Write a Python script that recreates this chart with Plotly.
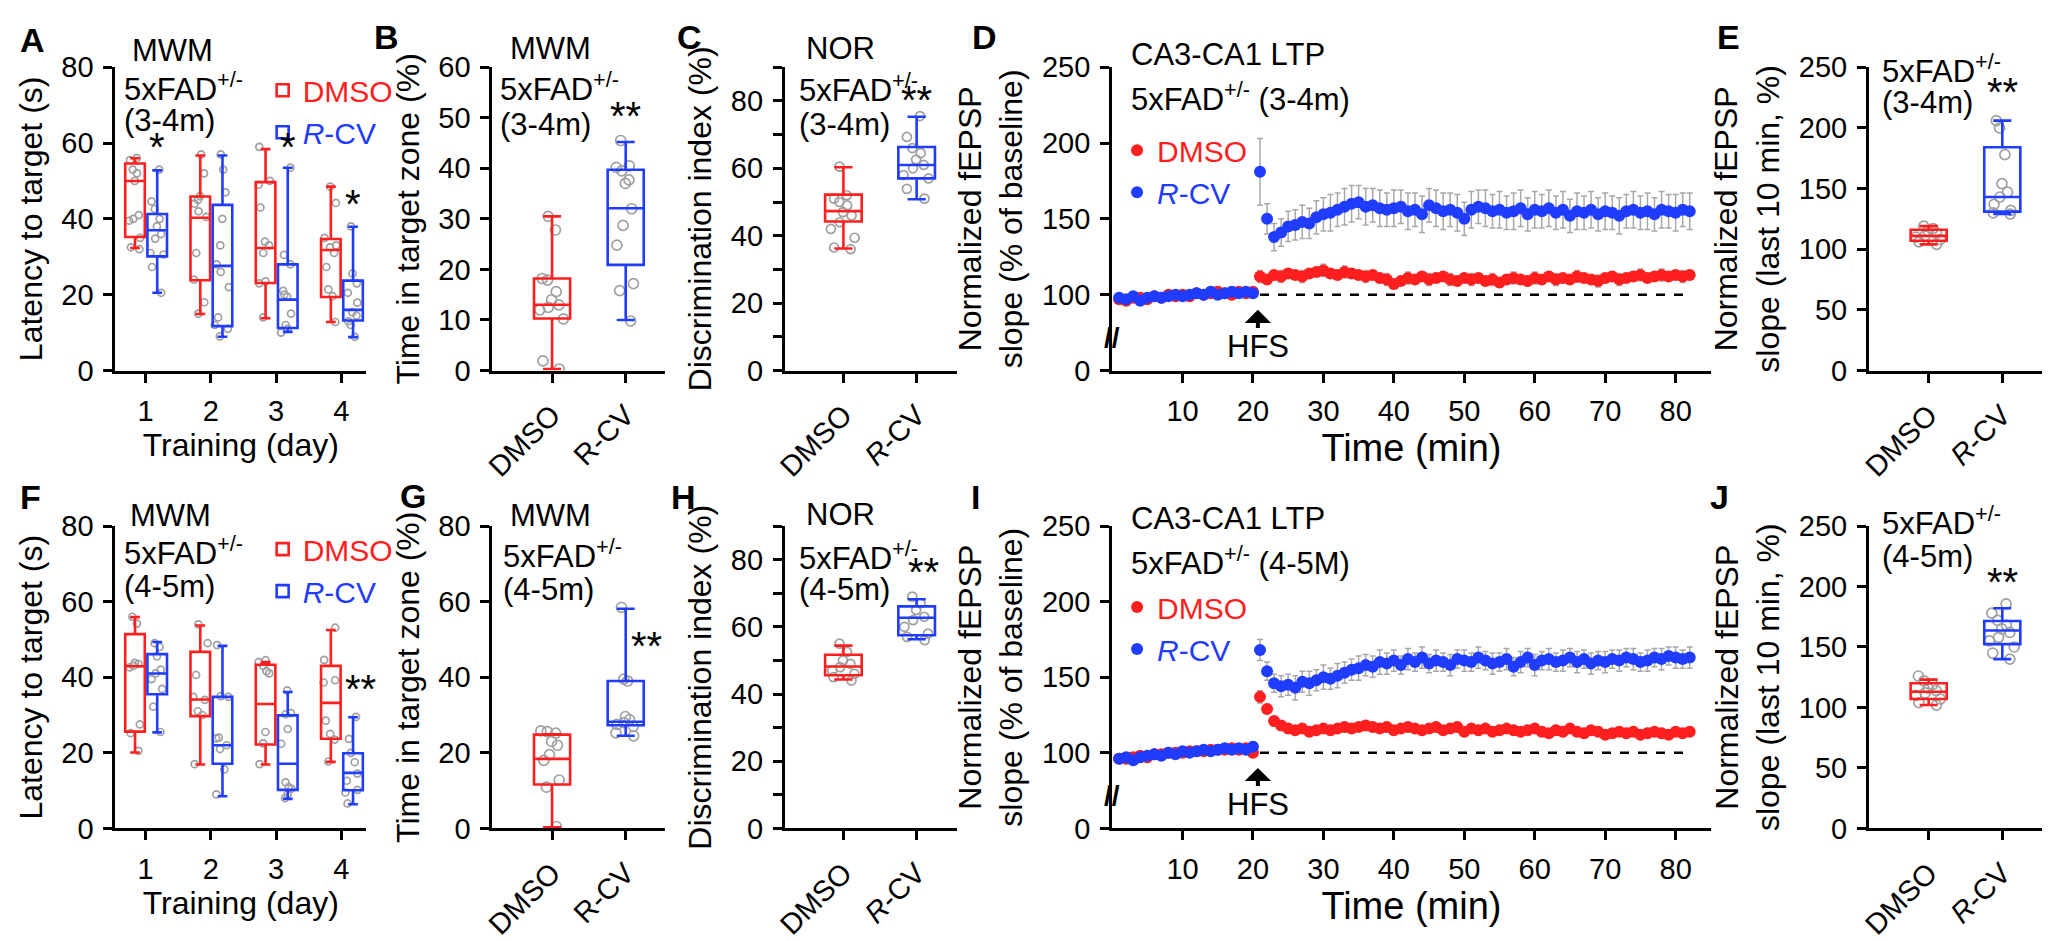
import plotly.graph_objects as go

W, H = 2054, 941
RED = "#ff1f1f"
BLUE = "#1f3cff"
GRAY = "#a0a0a0"
EGRAY = "#a8a8a8"
FONT = "Liberation Sans, Arial, sans-serif"

# ---------------- data ----------------
DAYS = [1, 2, 3, 4]
TREAT_POS = [1, 2]
TREAT_TXT = ["DMSO", "R-CV"]
TREAT_TXT_IT = ["DMSO", "<i>R</i>-CV"]

# box stats: [lowerfence, q1, median, q3, upperfence]
A_DMSO_BOX = [[32.3, 35.2, 50.0, 54.6, 56.0], [14.9, 23.8, 40.3, 45.9, 56.7],
              [13.8, 23.1, 32.3, 49.7, 58.4], [12.8, 19.4, 31.8, 34.7, 48.5]]
A_RCV_BOX = [[20.5, 30.1, 37.0, 41.3, 52.8], [8.9, 11.7, 27.6, 43.7, 56.7],
             [10.2, 11.2, 18.7, 28.0, 53.5], [8.8, 13.2, 16.0, 23.7, 37.9]]
A_DMSO_PTS = [[56, 55.5, 53, 52, 50, 41, 40, 39.5, 35, 32.5, 32],
              [57, 52, 46, 45, 44, 42, 40.5, 31, 24, 18, 15],
              [59, 50, 49, 43, 34, 33, 31, 23.5, 23, 14],
              [48.5, 44.2, 35, 33, 32.5, 31, 27.3, 21.4, 19.6, 12.8]]
A_RCV_PTS = [[53, 44.6, 42.6, 40, 38, 36, 34.8, 31, 30.6, 27.3, 20.5],
             [57, 53, 47, 40, 33, 28, 26, 22, 14, 12, 11, 9],
             [53.5, 30.5, 28, 21, 20, 19.5, 15, 12, 11, 10],
             [38, 25.6, 23, 20.5, 17.9, 15.4, 14.5, 13, 12, 8.9]]

B_DMSO_BOX = [[0.3, 10.3, 13.0, 18.2, 30.5]]
B_RCV_BOX = [[10.0, 20.9, 32.1, 39.7, 45.2]]
B_DMSO_PTS = [[30.5, 27.8, 18.2, 17.9, 15.6, 14, 13, 12.5, 12, 10.2, 1.9, 0.3]]
B_RCV_PTS = [[45.5, 40.5, 40.2, 39.5, 37.7, 37, 32, 28.7, 24.8, 17.2, 15.8, 9.8]]

C_DMSO_BOX = [[36.2, 44.2, 47.3, 52.2, 60.3]]
C_RCV_BOX = [[50.8, 57.0, 61.0, 66.3, 75.3]]
C_DMSO_PTS = [[60.5, 52, 51, 50, 49, 47, 46, 44, 42, 39.4, 36.5, 36]]
C_RCV_PTS = [[75.5, 69.3, 66, 64.5, 62.6, 61, 60, 58, 57, 53.9, 51]]

E_DMSO_BOX = [[104, 107, 111, 116, 119]]
E_RCV_BOX = [[129, 131, 143, 184, 206]]
E_DMSO_PTS = [[119, 117, 115, 113, 111, 110, 108, 106, 104]]
E_RCV_PTS = [[206, 200, 178, 154, 147, 143, 137, 132, 130, 129]]

F_DMSO_BOX = [[20.1, 25.6, 42.9, 51.4, 55.9], [16.9, 29.7, 34.1, 46.7, 53.7],
              [16.9, 22.2, 32.9, 43.3, 44.0], [17.6, 23.7, 33.2, 43.0, 52.5]]
F_RCV_BOX = [[25.4, 35.5, 41.0, 46.1, 49.3], [8.5, 17.1, 22.0, 34.8, 48.3],
             [7.8, 10.2, 17.1, 29.9, 36.1], [6.4, 10.1, 14.7, 19.9, 29.4]]
F_DMSO_PTS = [[56, 54.2, 43.8, 43.5, 43, 42.6, 27.5, 25.2, 20.5],
              [54, 49, 40.6, 34.8, 34, 31, 30, 17],
              [44.5, 44, 43, 41.6, 41, 25.5, 22.5, 17],
              [53.1, 44.6, 39.2, 38.6, 28.5, 25, 23.5, 17.7]]
F_RCV_PTS = [[49, 48, 45.5, 42, 41, 39.5, 36.9, 32.2, 25.5],
             [48.5, 35, 34.8, 24, 23.8, 22, 21, 15.6, 9],
             [36.5, 30.5, 30.2, 26.3, 22.4, 12.2, 10.9, 10.5, 9, 8],
             [29.5, 23.7, 20, 17.5, 14.5, 12.6, 10.2, 9.5, 6.6]]

G_DMSO_BOX = [[0.3, 11.6, 18.4, 24.8, 24.9]]
G_RCV_BOX = [[24.5, 27.3, 28.2, 39.0, 58.1]]
G_DMSO_PTS = [[25.8, 25.6, 25.2, 23, 22, 19.5, 18, 12.8, 10.9, 0.5]]
G_RCV_PTS = [[58.5, 39.5, 39, 29.6, 28.8, 28, 27.5, 27, 25.3, 24.5]]

H_DMSO_BOX = [[44.3, 45.6, 48.2, 51.7, 54.4]]
H_RCV_BOX = [[56.3, 57.5, 62.7, 66.1, 68.2]]
H_DMSO_PTS = [[55, 52.5, 50, 49, 48, 47, 46, 45, 44]]
H_RCV_PTS = [[69, 67, 65, 63, 62, 60, 58, 57, 56]]

J_DMSO_BOX = [[102, 107, 113, 120, 123]]
J_RCV_BOX = [[140, 152.4, 163.6, 171.5, 182]]
J_DMSO_PTS = [[126, 122, 119, 116, 114, 112, 110, 107, 104, 102]]
J_RCV_PTS = [[185.6, 178, 172, 168, 165, 162, 158, 155, 150, 145, 140]]

# LTP time courses (1-min bins)
TIME_MIN = list(range(1, 83))
D_DMSO = [97, 96, 98, 98, 97, 99, 98, 100, 99, 100, 99, 101, 100, 101, 102, 101, 100, 102, 101, 102,
          112, 110, 113, 112, 114, 113, 112, 114, 115, 116,
          114, 113, 115, 114, 113, 112, 113, 111, 110, 107,
          109, 111, 110, 112, 110, 111, 112, 110, 109, 111,
          110, 111, 109, 110, 108, 110, 111, 110, 109, 111,
          110, 112, 110, 111, 110, 112, 111, 110, 109, 111,
          112, 110, 111, 112, 113, 111, 112, 113, 112, 113,
          112, 113]
D_DMSO_ERR = [2, 2, 3, 2, 2, 2, 3, 2, 2, 2, 3, 2, 2, 2, 3, 2, 2, 2, 3, 2,
              4, 3, 3, 4, 3, 3, 4, 3, 3, 4,
              3, 3, 4, 3, 3, 4, 3, 3, 4, 3,
              3, 4, 3, 3, 4, 3, 3, 4, 3, 3,
              4, 3, 3, 4, 3, 3, 4, 3, 3, 4,
              3, 3, 4, 3, 3, 4, 3, 3, 4, 3,
              3, 4, 3, 3, 4, 3, 3, 4, 3, 3,
              4, 3]
D_RCV = [98, 97, 99, 96, 98, 99, 98, 99, 100, 99, 100, 101, 100, 102, 100, 101, 102, 101, 102, 101,
         181, 150, 138, 141, 145, 146, 148, 147, 151, 153,
         154, 156, 158, 160, 161, 158, 159, 157, 156, 157,
         158, 155, 156, 153, 159, 157, 155, 156, 154, 150,
         156, 158, 157, 155, 156, 154, 155, 157, 153, 156,
         155, 157, 154, 156, 152, 155, 154, 156, 153, 155,
         154, 152, 155, 156, 154, 155, 153, 156, 155, 154,
         156, 155]
D_RCV_ERR = [2, 2, 3, 2, 2, 3, 2, 2, 3, 2, 2, 3, 2, 3, 2, 2, 3, 2, 3, 2,
             22, 10, 9, 9, 10, 10, 11, 10, 11, 11,
             12, 11, 12, 12, 11, 12, 11, 12, 11, 12,
             11, 12, 11, 12, 11, 12, 12, 11, 12, 11,
             12, 11, 12, 11, 12, 11, 12, 12, 11, 12,
             11, 12, 11, 12, 11, 12, 11, 12, 11, 12,
             11, 12, 11, 12, 11, 12, 11, 12, 11, 12,
             11, 12]
I_DMSO = [96, 96, 97, 98, 97, 99, 99, 100, 100, 100, 101, 101, 101, 102, 102, 102, 103, 102, 103, 100,
          137, 129, 121, 118, 116, 115, 116, 114, 115, 116,
          115, 116, 117, 116, 117, 118, 117, 116, 117, 115,
          116, 117, 116, 115, 116, 117, 115, 116, 117, 114,
          116, 115, 116, 114, 115, 116, 115, 114, 115, 116,
          114, 113, 115, 114, 116, 114, 113, 115, 114, 112,
          113, 114, 113, 114, 112, 113, 114, 113, 112, 114,
          113, 114]
I_DMSO_ERR = [2, 2, 2, 2, 3, 2, 2, 2, 2, 3, 2, 2, 2, 2, 3, 2, 2, 2, 2, 3,
              4, 3, 3, 3, 3, 2, 3, 3, 2, 3,
              3, 2, 3, 3, 2, 3, 3, 2, 3, 3,
              2, 3, 3, 2, 3, 3, 2, 3, 3, 2,
              3, 3, 2, 3, 3, 2, 3, 3, 2, 3,
              3, 2, 3, 3, 2, 3, 3, 2, 3, 3,
              2, 3, 3, 2, 3, 3, 2, 3, 3, 2,
              3, 3]
I_RCV = [96, 97, 95, 97, 98, 99, 98, 100, 99, 101, 100, 101, 102, 101, 102, 103, 102, 103, 102, 104,
         168, 154, 146, 144, 145, 143, 147, 146, 148, 150,
         149, 151, 153, 155, 156, 158, 157, 160, 159, 161,
         158, 162, 160, 163, 159, 161, 160, 158, 162, 161,
         160, 163, 161, 159, 160, 162, 157, 160, 163, 158,
         161, 162, 160, 161, 163, 160, 162, 159, 161, 160,
         162, 161, 163, 162, 160, 161, 163, 162, 164, 163,
         162, 163]
I_RCV_ERR = [2, 2, 2, 3, 2, 2, 2, 3, 2, 2, 2, 3, 2, 2, 2, 3, 2, 2, 2, 3,
             7, 6, 6, 7, 7, 8, 7, 8, 7, 8,
             7, 8, 7, 7, 8, 7, 7, 8, 7, 7,
             6, 7, 6, 7, 6, 7, 6, 7, 6, 7,
             6, 7, 6, 7, 6, 7, 6, 7, 6, 7,
             6, 7, 6, 7, 6, 7, 6, 7, 6, 7,
             6, 7, 6, 7, 6, 7, 6, 7, 6, 7,
             6, 7]

# ---------------- helpers ----------------
def px_x(p):
    return p / W


def px_y(p):
    return 1 - p / H


def ax_names(n):
    return ("x", "y") if n == 1 else (f"x{n}", f"y{n}")


fig = go.Figure()


def add_boxes(n, positions, stats, pts, color, width, msize, name=None, legend="legend"):
    xa, ya = ax_names(n)
    xs = [p for p, grp in zip(positions, pts) for _ in grp]
    ys = [v for grp in pts for v in grp]
    fig.add_trace(go.Box(
        x=xs, y=ys, xaxis=xa, yaxis=ya, boxpoints="all", jitter=0.85, pointpos=0,
        width=width, line=dict(width=0, color="rgba(0,0,0,0)"), fillcolor="rgba(0,0,0,0)",
        marker=dict(symbol="circle-open", size=msize, color=GRAY, line=dict(width=1.7, color=GRAY)),
        name="points", showlegend=False, hoverinfo="skip"))
    fig.add_trace(go.Box(
        x=positions, lowerfence=[s[0] for s in stats], q1=[s[1] for s in stats],
        median=[s[2] for s in stats], q3=[s[3] for s in stats], upperfence=[s[4] for s in stats],
        xaxis=xa, yaxis=ya, width=width, whiskerwidth=0.5, boxpoints=False,
        line=dict(color=color, width=2.6), fillcolor="rgba(0,0,0,0)",
        name=name if name else "box", showlegend=name is not None, legend=legend, hoverinfo="skip"))


def add_ltp(n, dmso, dmso_err, rcv, rcv_err, legend):
    xa, ya = ax_names(n)
    fig.add_trace(go.Scatter(
        x=TIME_MIN, y=dmso, xaxis=xa, yaxis=ya, mode="markers",
        marker=dict(size=12, color=RED),
        error_y=dict(type="data", array=dmso_err, color=EGRAY, thickness=1.5, width=3),
        name=f'<span style="color:{RED}">DMSO</span>', legend=legend, hoverinfo="skip"))
    fig.add_trace(go.Scatter(
        x=TIME_MIN, y=rcv, xaxis=xa, yaxis=ya, mode="markers",
        marker=dict(size=12, color=BLUE),
        error_y=dict(type="data", array=rcv_err, color=EGRAY, thickness=1.5, width=3),
        name=f'<span style="color:{BLUE}"><i>R</i>-CV</span>', legend=legend, hoverinfo="skip"))


DMSO_NAME = f'<span style="color:{RED}">DMSO</span>'
RCV_NAME = f'<span style="color:{BLUE}"><i>R</i>-CV</span>'

# A and F (training days)
for n, dbox, rbox, dpts, rpts, lg in [(1, A_DMSO_BOX, A_RCV_BOX, A_DMSO_PTS, A_RCV_PTS, "legend"),
                                      (6, F_DMSO_BOX, F_RCV_BOX, F_DMSO_PTS, F_RCV_PTS, "legend3")]:
    add_boxes(n, [d - 0.16 for d in DAYS], dbox, dpts, RED, 0.30, 7, DMSO_NAME, lg)
    add_boxes(n, [d + 0.18 for d in DAYS], rbox, rpts, BLUE, 0.30, 7, RCV_NAME, lg)

# two-group panels
for n, dbox, rbox, dpts, rpts, w, ms in [
        (2, B_DMSO_BOX, B_RCV_BOX, B_DMSO_PTS, B_RCV_PTS, 0.49, 10),
        (3, C_DMSO_BOX, C_RCV_BOX, C_DMSO_PTS, C_RCV_PTS, 0.5, 9),
        (5, E_DMSO_BOX, E_RCV_BOX, E_DMSO_PTS, E_RCV_PTS, 0.49, 10),
        (7, G_DMSO_BOX, G_RCV_BOX, G_DMSO_PTS, G_RCV_PTS, 0.49, 10),
        (8, H_DMSO_BOX, H_RCV_BOX, H_DMSO_PTS, H_RCV_PTS, 0.5, 9),
        (10, J_DMSO_BOX, J_RCV_BOX, J_DMSO_PTS, J_RCV_PTS, 0.49, 10)]:
    add_boxes(n, [TREAT_POS[0]], dbox, dpts, RED, w, ms)
    add_boxes(n, [TREAT_POS[1]], rbox, rpts, BLUE, w, ms)

add_ltp(4, D_DMSO, D_DMSO_ERR, D_RCV, D_RCV_ERR, "legend2")
add_ltp(9, I_DMSO, I_DMSO_ERR, I_RCV, I_RCV_ERR, "legend4")

# ---------------- layout ----------------
TOP = [px_y(367), px_y(53)]
BOT = [px_y(841), px_y(528)]
XDOM = {1: (105, 357), 2: (484, 658), 3: (778, 951), 4: (1107, 1709), 5: (1868, 2042)}


def base_axis(**kw):
    d = dict(showline=True, linewidth=3, linecolor="black", ticks="outside", ticklen=9,
             tickwidth=3, tickcolor="black", showgrid=False, zeroline=False,
             tickfont=dict(size=29, color="black", family=FONT), fixedrange=True,
             ticklabelstandoff=4)
    d.update(kw)
    return d


def title(text, size=32, standoff=10):
    return dict(text=text, font=dict(size=size, family=FONT, color="black"), standoff=standoff)


layout = {}
for row, ydom in [(0, TOP), (1, BOT)]:
    for col in range(1, 6):
        n = col + 5 * row
        xk = "xaxis" if n == 1 else f"xaxis{n}"
        yk = "yaxis" if n == 1 else f"yaxis{n}"
        xa, ya = ax_names(n)
        xd = [px_x(XDOM[col][0]), px_x(XDOM[col][1])]
        if col == 1:
            layout[xk] = base_axis(domain=xd, anchor=ya, range=[0.54, 4.38], tickvals=DAYS,
                                   title=title("Training (day)", standoff=2))
            layout[yk] = base_axis(domain=ydom, anchor=xa, range=[0, 80], tickvals=[0, 20, 40, 60, 80],
                                   title=title("Latency to target (s)"))
        elif col == 2:
            layout[xk] = base_axis(domain=xd, anchor=ya, range=[0.19, 2.54], tickvals=TREAT_POS,
                                   ticktext=TREAT_TXT, tickangle=-45)
            if row == 0:
                yr, yt = [0, 60], [0, 10, 20, 30, 40, 50, 60]
            else:
                yr, yt = [0, 80], [0, 20, 40, 60, 80]
            layout[yk] = base_axis(domain=ydom, anchor=xa, range=yr, tickvals=yt,
                                   title=title("Time in target zone (%)"))
        elif col == 3:
            layout[xk] = base_axis(domain=xd, anchor=ya, range=[0.2, 2.55], tickvals=TREAT_POS,
                                   ticktext=TREAT_TXT_IT, tickangle=-45)
            layout[yk] = base_axis(domain=ydom, anchor=xa, range=[0, 90], tickvals=[0, 20, 40, 60, 80],
                                   minor=dict(tickvals=[10, 30, 50, 70, 90], ticks="outside", ticklen=9,
                                              tickwidth=3, tickcolor="black"),
                                   title=title("Discrimination index (%)"))
        elif col == 4:
            layout[xk] = base_axis(domain=xd, anchor=ya, range=[0, 85],
                                   tickvals=[10, 20, 30, 40, 50, 60, 70, 80],
                                   title=title("Time (min)", size=38, standoff=6))
            layout[yk] = base_axis(domain=ydom, anchor=xa, range=[50, 250],
                                   tickvals=[50, 100, 150, 200, 250],
                                   ticktext=["0", "100", "150", "200", "250"],
                                   title=title("Normalized fEPSP<br>slope (% of baseline)"))
        else:
            layout[xk] = base_axis(domain=xd, anchor=ya, range=[0.19, 2.54], tickvals=TREAT_POS,
                                   ticktext=TREAT_TXT_IT, tickangle=-45)
            layout[yk] = base_axis(domain=ydom, anchor=xa, range=[0, 250],
                                   tickvals=[0, 50, 100, 150, 200, 250],
                                   title=title("Normalized fEPSP<br>slope (last 10 min, %)"))

LEG = dict(xanchor="left", yanchor="top", font=dict(size=30, family=FONT, color="black"),
           bgcolor="rgba(0,0,0,0)", borderwidth=0, itemwidth=30, tracegroupgap=0)
layout["legend"] = dict(LEG, x=px_x(253), y=px_y(50))
layout["legend2"] = dict(LEG, x=px_x(1112), y=px_y(112))
layout["legend3"] = dict(LEG, x=px_x(253), y=px_y(525))
layout["legend4"] = dict(LEG, x=px_x(1112), y=px_y(585))

ann = []


def txt(text, x, y, size=31, xanchor="left", bold=False):
    ann.append(dict(text=f"<b>{text}</b>" if bold else text, x=px_x(x), y=px_y(y),
                    xref="paper", yref="paper", xanchor=xanchor, yanchor="middle",
                    showarrow=False, font=dict(size=size, family=FONT, color="black")))


SUP = "5xFAD<sup>+/-</sup>"
# panel letters
for lab, x, y in [("A", 22, 25), ("B", 378, 22), ("C", 682, 22), ("D", 979, 22), ("E", 1727, 22),
                  ("F", 20, 498), ("G", 404, 497), ("H", 676, 498), ("I", 970, 498), ("J", 1718, 498)]:
    txt(lab, x, y, size=34, xanchor="center", bold=True)

# descriptive texts
txt("MWM", 162, 36, xanchor="center"); txt(SUP, 112, 74); txt("(3-4m)", 112, 108)
txt("MWM", 160, 517, xanchor="center"); txt(SUP, 112, 554); txt("(4-5m)", 112, 591)
txt("MWM", 542, 34, xanchor="center"); txt(SUP, 490, 74); txt("(3-4m)", 490, 112)
txt("MWM", 542, 517, xanchor="center"); txt(SUP, 493, 557); txt("(4-5m)", 493, 594)
txt("NOR", 834, 34, xanchor="center"); txt(SUP, 790, 75); txt("(3-4m)", 790, 112)
txt("NOR", 834, 516, xanchor="center"); txt(SUP, 790, 559); txt("(4-5m)", 790, 594)
txt("CA3-CA1 LTP", 1124, 40); txt(SUP + " (3-4m)", 1124, 84)
txt("CA3-CA1 LTP", 1124, 520); txt(SUP + " (4-5M)", 1124, 564)
txt(SUP, 1879, 55); txt("(3-4m)", 1879, 90)
txt(SUP, 1879, 523); txt("(4-5m)", 1879, 560)

# significance marks (glyph centre given in data units)
for n, x, y, s in [(1, 1.18, 57.3, "*"), (1, 3.18, 57.3, "*"), (1, 4.18, 42.4, "*"),
                   (6, 4.30, 35.3, "**"), (2, 2.0, 49.1, "**"), (7, 2.28, 46.8, "**"),
                   (3, 2.0, 78.5, "**"), (8, 2.1, 74.5, "**"), (5, 2.0, 224.5, "**"),
                   (10, 2.0, 198.7, "**")]:
    xa, ya = ax_names(n)
    ann.append(dict(text=s, x=x, y=y, xref=xa, yref=ya, xanchor="center", yanchor="middle",
                    yshift=6, showarrow=False, font=dict(size=40, family=FONT, color="black")))

# HFS arrows, labels and axis break marks
shapes = []
for n in (4, 9):
    xa, ya = ax_names(n)
    ann.append(dict(text="", x=20.7, y=90, ax=20.7, ay=77, xref=xa, yref=ya, axref=xa, ayref=ya,
                    showarrow=True, arrowhead=1, arrowsize=1.1, arrowwidth=4, arrowcolor="black"))
    ann.append(dict(text="HFS", x=20.7, y=66, xref=xa, yref=ya, xanchor="center", yanchor="middle",
                    showarrow=False, font=dict(size=31, family=FONT, color="black")))
    ann.append(dict(text="<b>//</b>", x=0, y=72, xref=xa, yref=ya, xanchor="center", yanchor="middle",
                    showarrow=False, font=dict(size=28, family=FONT, color="black")))
    shapes.append(dict(type="line", xref=xa, yref=ya, x0=21, x1=82, y0=100, y1=100,
                       line=dict(color="black", width=2.5, dash="dash")))

fig.update_layout(
    width=W, height=H, margin=dict(l=0, r=0, t=0, b=0),
    paper_bgcolor="white", plot_bgcolor="white", boxmode="overlay",
    font=dict(family=FONT, color="black"), annotations=ann, shapes=shapes, **layout)

fig.write_html("out.html", config={"displayModeBar": False},
               post_script="document.body.style.margin='0';")
